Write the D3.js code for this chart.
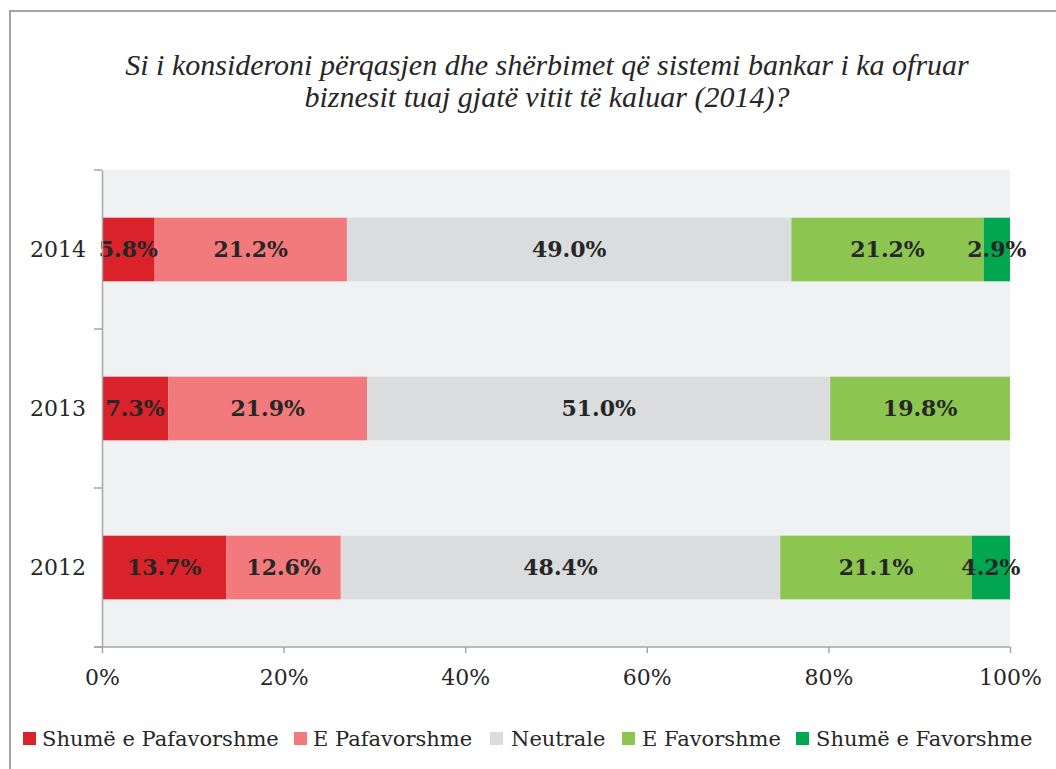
<!DOCTYPE html>
<html>
<head>
<meta charset="utf-8">
<script src="https://cdn.jsdelivr.net/npm/d3@7/dist/d3.min.js"></script>
<style>
  html, body { margin: 0; padding: 0; background: #ffffff; }
  svg { display: block; }
</style>
</head>
<body>
<svg id="chart" width="1056" height="769"></svg>
<script>
// Survey answers per year, share of businesses (%)
const years = ["2014", "2013", "2012"];
const categories = ["Shumë e Pafavorshme", "E Pafavorshme", "Neutrale", "E Favorshme", "Shumë e Favorshme"];
const shumePafavorshme = [5.8, 7.3, 13.7];
const pafavorshme      = [21.2, 21.9, 12.6];
const neutrale         = [49.0, 51.0, 48.4];
const favorshme        = [21.2, 19.8, 21.1];
const shumeFavorshme   = [2.9, 0, 4.2];
const xTicks = [0, 0.2, 0.4, 0.6, 0.8, 1.0];
const colors = ["#d9222a", "#f27a7c", "#dbdcde", "#8cc650", "#00a650"];
const titleLines = [
  "Si i konsideroni përqasjen dhe shërbimet që sistemi bankar i ka ofruar",
  "biznesit tuaj gjatë vitit të kaluar (2014)?"
];

const seriesValues = [shumePafavorshme, pafavorshme, neutrale, favorshme, shumeFavorshme];
const rows = years.map((y, i) => {
  const r = { year: y };
  categories.forEach((c, k) => { r[c] = seriesValues[k][i]; });
  return r;
});

const svg = d3.select("#chart");
const serif = "'DejaVu Serif', serif";

// Outer frame (top and left edges)
svg.append("path")
  .attr("d", "M10,769 V11 H1056")
  .attr("fill", "none")
  .attr("stroke", "#a3a3a3")
  .attr("stroke-width", 2);

// Title
svg.append("text")
  .attr("x", 547)
  .attr("y", 75)
  .attr("text-anchor", "middle")
  .attr("font-family", "'Liberation Serif', serif")
  .attr("font-style", "italic")
  .attr("font-size", 30)
  .attr("fill", "#262626")
  .selectAll("tspan")
  .data(titleLines)
  .join("tspan")
  .attr("x", 547)
  .attr("dy", (d, i) => i === 0 ? 0 : 32)
  .text(d => d);

const plot = { left: 102, right: 1010, top: 170, bottom: 647 };

const x = d3.scaleLinear().domain([0, 1]).range([plot.left, plot.right]);
const y = d3.scaleBand().domain(years).range([plot.top, plot.bottom])
  .paddingInner(0.6).paddingOuter(0.3);

// Plot background
svg.append("rect")
  .attr("x", plot.left)
  .attr("y", plot.top)
  .attr("width", plot.right - plot.left)
  .attr("height", plot.bottom - plot.top)
  .attr("fill", "#f0f1f3");

const stack = d3.stack().keys(categories).offset(d3.stackOffsetExpand);
const series = stack(rows);

const layers = svg.append("g").selectAll("g")
  .data(series)
  .join("g")
  .attr("fill", (d, i) => colors[i]);

layers.selectAll("rect")
  .data(d => d)
  .join("rect")
  .attr("x", d => x(d[0]))
  .attr("y", d => y(d.data.year))
  .attr("width", d => Math.max(0, x(d[1]) - x(d[0])))
  .attr("height", y.bandwidth());

// Value labels centred in each segment
const labels = svg.append("g")
  .attr("font-family", serif)
  .attr("font-weight", "bold")
  .attr("font-size", 22)
  .attr("fill", "#262626")
  .attr("text-anchor", "middle");

series.forEach((s) => {
  s.forEach(d => {
    const v = d.data[s.key];
    if (!v) return;
    labels.append("text")
      .attr("x", x((d[0] + d[1]) / 2))
      .attr("y", y(d.data.year) + y.bandwidth() / 2)
      .attr("dy", "0.36em")
      .text(v.toFixed(1) + "%");
  });
});

// Axes
const axisColor = "#a6a6a6";
const xAxis = svg.append("g")
  .attr("transform", `translate(0,${plot.bottom})`)
  .call(d3.axisBottom(x).tickValues(xTicks).tickFormat(d3.format(".0%")).tickSize(6).tickSizeOuter(0).tickPadding(16));

const yAxis = svg.append("g")
  .attr("transform", `translate(${plot.left},0)`)
  .call(d3.axisLeft(y).tickSize(0).tickPadding(16));

// Category boundary ticks on the vertical axis
const bounds = years.map(yr => y(yr) - y.step() * y.paddingInner() / 2).concat([plot.bottom]);
svg.append("g").selectAll("line")
  .data(bounds)
  .join("line")
  .attr("x1", plot.left - 8)
  .attr("x2", plot.left)
  .attr("y1", d => d)
  .attr("y2", d => d)
  .attr("stroke", axisColor)
  .attr("stroke-width", 1.5);

[xAxis, yAxis].forEach(g => {
  g.select(".domain").attr("stroke", axisColor).attr("stroke-width", 1.5);
  g.selectAll(".tick line").attr("stroke", axisColor).attr("stroke-width", 1.5);
  g.selectAll(".tick text")
    .attr("font-family", serif)
    .attr("font-size", 22)
    .attr("fill", "#262626");
});
xAxis.select(".domain").attr("d", `M${plot.left - 8},0H${plot.right}`);

// Legend
const legendItems = [
  { sx: 23, tx: 42 },
  { sx: 294, tx: 313 },
  { sx: 490, tx: 511 },
  { sx: 622, tx: 642 },
  { sx: 796, tx: 816 }
];
const legend = svg.append("g");
categories.forEach((c, i) => {
  legend.append("rect")
    .attr("x", legendItems[i].sx)
    .attr("y", 732)
    .attr("width", 13)
    .attr("height", 13)
    .attr("fill", colors[i]);
  legend.append("text")
    .attr("x", legendItems[i].tx)
    .attr("y", 746)
    .attr("font-family", serif)
    .attr("font-size", 21)
    .attr("fill", "#262626")
    .text(c);
});
</script>
</body>
</html>
